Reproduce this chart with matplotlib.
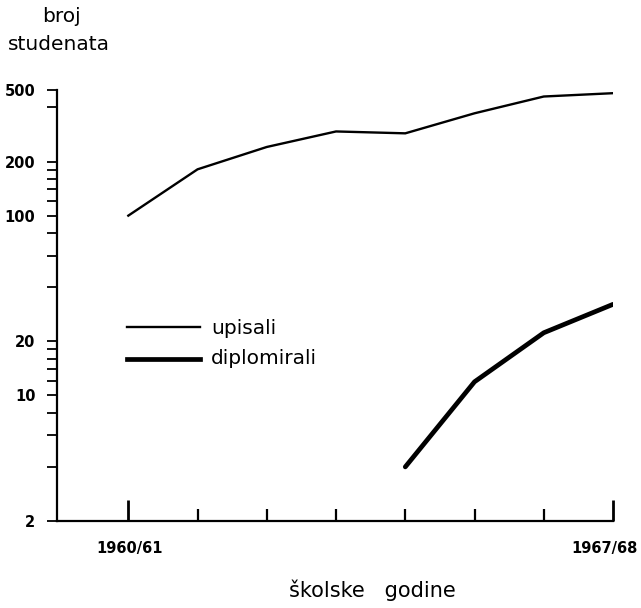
import numpy as np
import matplotlib.pyplot as plt
from matplotlib.ticker import FixedLocator, NullFormatter

plt.rcParams.update({
    "font.family": "sans-serif",
    "font.sans-serif": ["DejaVu Sans"],
    "axes.linewidth": 1.6,
})

# data
years = ["1960/61", "1961/62", "1962/63", "1963/64",
         "1964/65", "1965/66", "1966/67", "1967/68"]
upisali = [100, 181, 241, 294, 287, 371, 460, 480]
diplomirali = [np.nan, np.nan, np.nan, np.nan, 4.0, 11.9, 22.3, 32.1]

y_major = [2, 10, 20, 100, 200, 500]
y_minor = [4, 6, 8, 12, 14, 16, 18, 40, 60, 80, 120, 140, 160, 180, 400]

fig = plt.figure(figsize=(6.41, 6.08), dpi=100)
ax = fig.add_axes([57/641, 1 - 521/608, (613 - 57)/641, (521 - 90)/608])

x = np.arange(len(years))
ax.plot(x, upisali, color="black", lw=1.7, solid_joinstyle="miter")
ax.plot(x, diplomirali, color="black", lw=3.4, solid_capstyle="round")

ax.set_yscale("log")
ax.set_ylim(2, 500)
ax.set_xlim(-1.03, 7)

for s in ["top", "right"]:
    ax.spines[s].set_visible(False)

# y axis ticks, outward to the left
ax.yaxis.set_major_locator(FixedLocator(y_major))
ax.yaxis.set_minor_locator(FixedLocator(y_minor))
ax.yaxis.set_minor_formatter(NullFormatter())
ax.set_yticklabels([str(v) for v in y_major], fontsize=10.5, fontweight="bold")
ax.tick_params(axis="y", which="both", direction="out", length=7.5, width=1.3, pad=8)

# x axis ticks pointing up; end ticks taller
ax.set_xticks(x)
ax.set_xticklabels([""] * len(x))
ax.tick_params(axis="x", which="major", direction="in", length=9, width=1.6)
for i, t in enumerate(ax.xaxis.get_major_ticks()):
    if i in (0, 7):
        t.tick1line.set_markersize(15)
        t.tick1line.set_markeredgewidth(2)

xl_kw = dict(va="center", fontsize=10.5, fontweight="bold",
             family="Liberation Sans Narrow")
fig.text(130/641, 1 - 548/608, years[0], ha="center", **xl_kw)
fig.text(638/641, 1 - 548/608, years[-1], ha="right", **xl_kw)

# legend drawn by hand like the original
lx0, lx1 = 127/641, 200/641
fig.add_artist(plt.Line2D([lx0, lx1], [1 - 327/608] * 2, color="black", lw=1.7))
fig.add_artist(plt.Line2D([lx0, lx1], [1 - 359/608] * 2, color="black", lw=3.4))
fig.text(211/641, 1 - 328/608, "upisali", fontsize=14.5, va="center")
fig.text(211/641, 1 - 359/608, "diplomirali", fontsize=14.5, va="center")

# axis titles
fig.text(42/641, 1 - 16/608, "broj", fontsize=14.5, va="center")
fig.text(8/641, 1 - 45/608, "studenata", fontsize=14.5, va="center")
fig.text(372/641, 1 - 590/608, "školske   godine", fontsize=15,
         ha="center", va="center")

fig.savefig("out.png", dpi=100, facecolor="white")
